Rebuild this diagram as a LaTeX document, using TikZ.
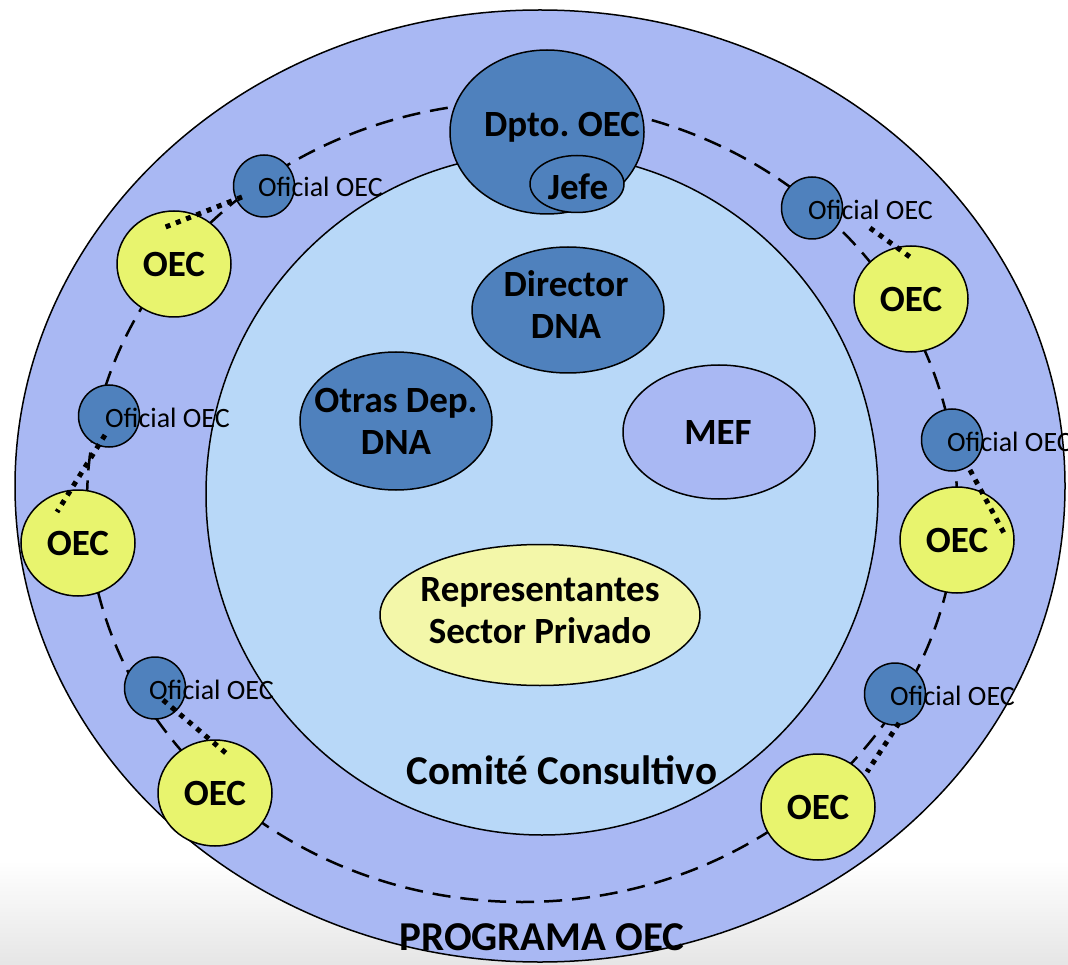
\documentclass[tikz,border=0pt]{standalone}
\usepackage{fontspec}
\setmainfont{Carlito}
\usetikzlibrary{shapes.geometric,calc}
\definecolor{outerc}{HTML}{A9B8F3}
\definecolor{innerc}{HTML}{B8D8F8}
\definecolor{darkb}{HTML}{4F81BD}
\definecolor{oecy}{HTML}{E8F46E}
\definecolor{repy}{HTML}{F3F7A9}
\begin{document}
\frenchspacing
\begin{tikzpicture}[x=1pt,y=-1pt,
  ell/.style={ellipse,draw=black,line width=1.5pt,inner sep=0pt},
  blueell/.style={ell,fill=darkb},
  oecell/.style={ell,fill=oecy,minimum width=114pt,minimum height=106pt},
  ofiell/.style={ell,fill=darkb,minimum width=61pt,minimum height=62pt},
  big/.style={font=\fontsize{37}{42}\selectfont\bfseries,align=center,inner sep=0pt},
  ofitext/.style={font=\fontsize{28}{32}\selectfont,anchor=west,inner sep=0pt},
  ring/.style={line width=2.5pt,dash pattern=on 18pt off 10pt},
  link/.style={line width=5pt,dash pattern=on 5pt off 6pt}]
\useasboundingbox (0,0) rectangle (1068,965);
\shade[top color=white,bottom color=black!10] (0,860) rectangle (1068,965);
% main rings
\node[ell,fill=outerc,minimum width=1050pt,minimum height=952pt] (outer) at (540,486) {};
\node[ell,fill=innerc,minimum width=672pt,minimum height=682pt] (inner) at (542,494) {};
\draw[ring] (522,502) ellipse [x radius=435, y radius=400];
% central bodies
\node[blueell,minimum width=194pt,minimum height=164pt] (dpto) at (547,132) {};
\node[blueell,minimum width=94pt,minimum height=57pt] (jefe) at (577,184) {};
\node[blueell,minimum width=192pt,minimum height=126pt] (director) at (568,310) {};
\node[blueell,minimum width=192pt,minimum height=138pt] (otras) at (396,421) {};
\node[ell,fill=outerc,minimum width=192pt,minimum height=134pt] (mef) at (719,432) {};
\node[ell,fill=repy,minimum width=320pt,minimum height=141pt] (rep) at (540,615) {};
\node[big] (dptotxt) at ($(dpto)+(15,-5)$) {Dpto. OEC};
\node[big] (jefetxt) at ($(jefe)+(1,3)$) {Jefe};
\node[big] (directortxt) at ($(director)+(-2,-5)$) {Director\\DNA};
\node[big] (otrastxt) at (otras) {Otras Dep.\\DNA};
\node[big] (meftxt) at ($(mef)+(-1,1)$) {MEF};
\node[big] (reptxt) at ($(rep)+(0,-4)$) {Representantes\\Sector Privado};
\node[big,font=\fontsize{41}{46}\selectfont\bfseries] (comite) at (562,770) {Comité Consultivo};
\node[big,font=\fontsize{41}{46}\selectfont\bfseries] (programa) at (542,937) {PROGRAMA OEC};
% OEC circles
\node[oecell] (oec1) at (174,264) {};
\node[oecell] (oec2) at (911,299) {};
\node[oecell] (oec3) at (78,543) {};
\node[oecell] (oec4) at (957,540) {};
\node[oecell] (oec5) at (215,793) {};
\node[oecell] (oec6) at (818,807) {};
\foreach \i in {1,...,6} {\node[big] (oectxt\i) at (oec\i) {OEC};}
% Oficial circles
\node[ofiell] (ofi1) at (264,186) {};
\node[ofiell] (ofi2) at (812,208) {};
\node[ofiell] (ofi3) at (109,416) {};
\node[ofiell] (ofi4) at (952,440) {};
\node[ofiell] (ofi5) at (155,688) {};
\node[ofiell] (ofi6) at (895,694) {};
% dotted links
\draw[link] ($(ofi1)+(-22,11)$) -- ($(oec1)+(-11,-36)$);
\draw[link] ($(ofi2)+(58,20)$) -- ($(oec2)+(-1,-42)$);
\draw[link] ($(ofi3)+(-4,19)$) -- ($(oec3)+(-21,-31)$);
\draw[link] ($(ofi4)+(18,30)$) -- ($(oec4)+(48,-5)$);
\draw[link] ($(ofi5)+(8,12)$) -- ($(oec5)+(12,-39)$);
\draw[link] ($(ofi6)+(4,29)$) -- ($(oec6)+(49,-35)$);
% Oficial labels
\node[ofitext] (ofitxt1) at ($(ofi1)+(-6,1)$) {Oficial OEC};
\node[ofitext] (ofitxt2) at ($(ofi2)+(-4,2)$) {Oficial OEC};
\node[ofitext] (ofitxt3) at ($(ofi3)+(-4,2)$) {Oficial OEC};
\node[ofitext] (ofitxt4) at ($(ofi4)+(-5,2)$) {Oficial OEC};
\node[ofitext] (ofitxt5) at ($(ofi5)+(-6,2)$) {Oficial OEC};
\node[ofitext] (ofitxt6) at ($(ofi6)+(-5,2)$) {Oficial OEC};
\end{tikzpicture}
\end{document}
